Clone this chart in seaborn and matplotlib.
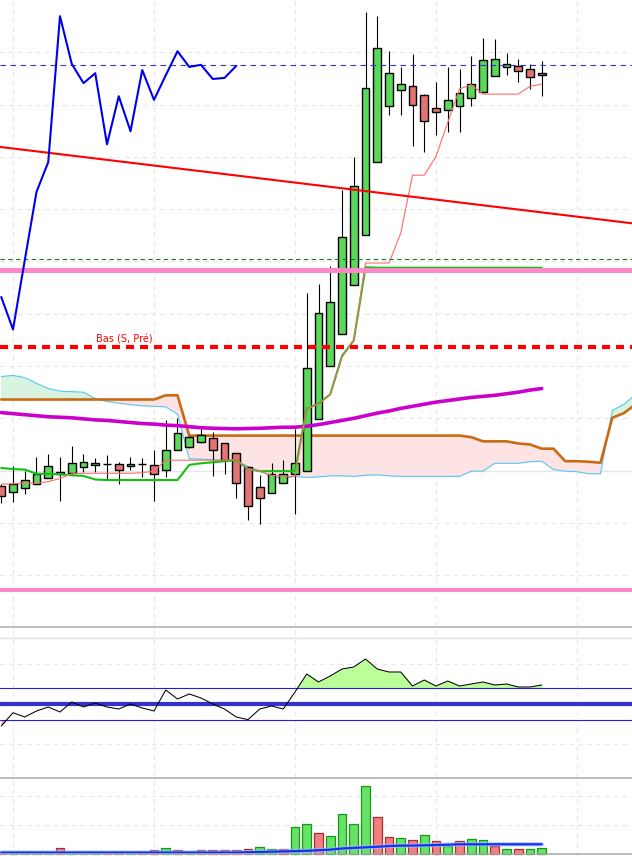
import numpy as np
import pandas as pd
import seaborn as sns
import matplotlib
matplotlib.use("Agg")
import matplotlib.pyplot as plt

# ---- candles (index 0..46), price units: grid every 10
opens = [27.0, 26.0, 26.7, 27.5, 28.65, 29.8, 29.6, 30.6, 31.1, 31.3, 31.3, 30.8, 31.2, 31.1, 30.2, 34.0,
         34.6, 35.5, 36.2, 35.2, 33.4, 30.6, 26.9, 25.8, 27.7, 29.4, 30.0, 39.9, 50.1, 56.2, 65.5, 75.0,
         89.1, 99.8, 102.8, 103.5, 101.8, 99.3, 98.9, 99.8, 101.2, 102.5, 105.4, 107.1, 107.3, 106.9, 106.0]
closes = [25.2, 27.5, 28.3, 29.4, 30.9, 29.4, 31.5, 31.7, 31.5, 31.3, 30.2, 31.3, 31.2, 29.4, 34.0, 37.1,
          36.4, 36.9, 33.9, 32.0, 27.7, 23.3, 24.8, 29.4, 29.4, 31.5, 49.7, 60.2, 62.3, 74.6, 84.5, 103.1,
          110.8, 106.0, 103.9, 100.0, 96.8, 98.5, 100.8, 102.3, 103.9, 108.5, 108.8, 107.7, 106.4, 105.2, 105.6]
highs = [27.4, 30.8, 29.9, 32.7, 33.1, 32.7, 34.8, 33.1, 32.5, 32.9, 31.7, 32.7, 32.5, 33.9, 39.6, 40.0,
         36.6, 38.0, 37.3, 35.2, 33.4, 30.6, 29.1, 31.4, 32.0, 38.0, 64.0, 65.6, 69.1, 83.6, 90.0, 117.7,
         116.9, 110.2, 107.2, 109.7, 102.0, 104.3, 107.2, 106.8, 109.3, 112.7, 112.5, 109.9, 108.8, 107.8, 108.3]
lows = [23.8, 24.0, 25.6, 27.5, 28.65, 24.2, 29.4, 29.7, 29.7, 28.4, 27.5, 30.2, 28.8, 24.2, 28.8, 34.0,
        34.4, 35.3, 29.0, 29.4, 24.8, 20.6, 19.8, 25.8, 27.7, 21.8, 30.0, 39.9, 50.1, 56.2, 65.5, 75.0,
        89.1, 98.0, 98.0, 92.1, 91.0, 94.2, 94.8, 94.8, 99.8, 102.5, 105.4, 105.7, 104.3, 102.9, 101.7]

# ---- indicators
tenkan = [27.4, 27.5, 27.6, 27.6, 27.9, 28.5, 29.4, 29.5, 29.5, 29.5, 29.5, 29.5, 29.6, 29.9, 32.0, 32.0,
          32.0, 32.0, 32.0, 32.0, 32.1, 30.3, 29.9, 29.1, 28.9, 28.9, 41.9, 42.7, 44.5, 51.7, 54.9, 69.7,
          69.7, 69.7, 75.4, 86.5, 86.5, 90.1, 96.6, 103.0, 103.8, 102.0, 102.0, 102.0, 102.0, 103.5, 103.9]
kijun = [30.5, 30.3, 30.2, 29.4, 29.4, 29.3, 29.1, 29.0, 28.3, 28.2, 28.2, 28.2, 28.2, 28.2, 28.2, 28.2,
         31.1, 31.4, 31.6, 31.8, 32.0, 30.3, 29.9, 29.9, 29.9, 29.9, 41.9, 42.8, 44.6, 51.9, 54.9, 68.9,
         68.8, 68.8, 68.8, 68.8, 68.8, 68.8, 68.8, 68.8, 68.8, 68.8, 68.8, 68.8, 68.8, 68.8, 68.8]
ma_slow = [41.1, 40.9, 40.7, 40.5, 40.3, 40.2, 40.1, 39.9, 39.7, 39.6, 39.4, 39.2, 39.0, 38.9, 38.7, 38.6,
           38.4, 38.2, 38.1, 38.05, 38.0, 38.05, 38.1, 38.2, 38.3, 38.3, 38.5, 38.8, 39.2, 39.6, 40.0, 40.5,
           41.0, 41.4, 41.9, 42.3, 42.7, 43.1, 43.4, 43.7, 44.0, 44.2, 44.4, 44.7, 45.0, 45.4, 45.7]
# cloud runs 8 bars past the last candle
span_a = [48.0, 48.2, 47.8, 46.7, 45.7, 45.2, 45.1, 45.0, 43.8, 43.2, 42.9, 42.6, 42.4, 42.3, 42.2, 40.8,
          32.3, 32.2, 32.1, 32.0, 31.8, 30.8, 29.9, 28.9, 28.5, 28.9, 28.7, 28.8, 29.0, 29.0, 28.9, 29.1,
          29.2, 29.0, 28.9, 28.9, 28.9, 28.9, 28.9, 28.9, 29.9, 29.9, 31.4, 31.4, 31.4, 31.7, 31.8, 30.2,
          29.9, 29.8, 29.4, 29.4, 41.5, 42.7, 44.6]
span_b = [43.6] * 14 + [44.4, 44.4] + [36.7] * 24 + [36.4, 35.6, 35.6, 35.6, 35.2, 35.0, 34.2, 34.2,
                                                   31.8, 31.8, 31.7, 31.5, 40.1, 41.0, 42.7]
compare = [63.2, 57.0, 70.2, 83.3, 89.0, 116.9, 107.8, 104.1, 106.0, 92.4, 101.6, 94.9, 106.6, 100.9,
           105.6, 110.2, 107.2, 107.6, 104.9, 105.1, 107.4]
trend_start, trend_end = 91.9, 77.3
level_blue, level_green, level_pink, level_pink_low, level_bas = 107.6, 70.4, 68.3, 7.1, 53.6

# ---- oscillator
osc = [22.5, 39.1, 33.75, 41.25, 46.25, 40.0, 52.5, 46.25, 51.25, 46.25, 43.75, 50.0, 45.0, 41.25, 67.5,
       56.25, 62.5, 57.5, 50.0, 43.75, 33.75, 30.5, 43.75, 47.5, 43.75, 65.0, 87.5, 77.5, 85.0, 93.75,
       96.25, 106.25, 93.75, 90.0, 90.0, 72.5, 80.0, 72.5, 78.75, 72.5, 75.0, 77.5, 73.75, 75.0, 71.25,
       71.25, 73.75]

# ---- volume
volume = [0.4, 0.4, 0.4, 0.4, 0.4, 2.0, 0.4, 0.4, 0.4, 0.4, 0.4, 0.4, 0.4, 1.3, 2.0, 1.3, 0.8, 1.3, 1.3,
          1.3, 1.3, 1.6, 2.3, 1.6, 1.6, 9.2, 10.2, 7.1, 6.1, 13.7, 10.2, 23.3, 12.7, 5.8, 5.4, 4.7, 6.4,
          4.4, 2.8, 4.4, 5.1, 4.7, 2.7, 1.6, 1.6, 1.6, 2.0]
vol_dir = ['d', 'u', 'u', 'u', 'u', 'd', 'u', 'u', 'u', 'd', 'd', 'u', 'd', 'd', 'u', 'd', 'u', 'd',
           'd', 'd', 'd', 'd', 'u', 'u', 'd', 'u', 'u', 'd', 'u', 'u', 'u', 'u', 'd', 'd', 'u', 'd', 'u',
           'd', 'u', 'd', 'u', 'u', 'd', 'u', 'd', 'u', 'u']
vol_ma = [0.5] * 21 + [0.6, 0.7, 0.8, 0.9, 1.0, 1.1, 1.3, 1.5, 1.9, 2.1, 2.3, 2.5, 2.75, 2.9, 2.9, 3.0,
                      3.1, 3.2, 3.35, 3.35, 3.35, 3.35, 3.35, 3.35, 3.35, 3.35]

df = pd.DataFrame({"i": np.arange(len(opens)), "o": opens, "h": highs, "l": lows, "c": closes,
                   "tenkan": tenkan, "kijun": kijun, "ma": ma_slow, "osc": osc,
                   "vol": volume, "vdir": vol_dir, "volma": vol_ma})
cloud = pd.DataFrame({"i": np.arange(len(span_a)), "a": span_a, "b": span_b})
cmp_df = pd.DataFrame({"i": np.arange(len(compare)), "v": compare})

sns.set_theme(style="white")
plt.rcParams['font.family'] = ['DejaVu Sans']

fig = plt.figure(figsize=(6.32, 8.56), dpi=100)
ax = fig.add_axes([0, 0.26694, 1, 0.73306])
ax_o = fig.add_axes([0, 0.091706, 1, 0.17465])
ax_v = fig.add_axes([0, 0, 1, 0.091121])

xlim = (-0.106, 53.68)
grid_x = [1, 13, 25, 37, 49]
for a in (ax, ax_o, ax_v):
    a.set_xlim(*xlim)
    a.set_xticks(grid_x)
    a.set_xticklabels([])
    a.tick_params(length=0)
    a.grid(True, color="#e6e6e6", linestyle=(0, (4, 4)), linewidth=0.8)
    a.set_axisbelow(True)
    for s in a.spines.values():
        s.set_visible(False)
    a.set_facecolor("white")

# ---- main panel
ax.set_ylim(0, 120)
ax.set_yticks(np.arange(10, 120, 10))
ax.yaxis.set_ticklabels([])
ax.axhline(30, color="#e4e4e4", lw=0.9, zorder=0.5)
ax.spines["bottom"].set_visible(True)
ax.spines["bottom"].set_color("#a4acac")
ax.spines["bottom"].set_linewidth(1.1)

ci = cloud["i"].values
ax.fill_between(ci, cloud["a"], cloud["b"], where=cloud["a"] >= cloud["b"], interpolate=True,
                color="#d8f3df", lw=0, zorder=1)
ax.fill_between(ci, cloud["a"], cloud["b"], where=cloud["a"] < cloud["b"], interpolate=True,
                color="#fde3e3", lw=0, zorder=1)
sns.lineplot(data=cloud, x="i", y="a", ax=ax, color="#55c8f0", linewidth=0.8, estimator=None, zorder=2)
sns.lineplot(data=cloud, x="i", y="b", ax=ax, color="#cc6a14", linewidth=1.9, estimator=None, zorder=2)

# candles
up = df["c"] >= df["o"]
ax.vlines(df["i"], df["l"], df["h"], color="black", lw=0.8, zorder=3)
body_bottom = np.minimum(df["o"], df["c"])
body_h = np.abs(df["c"] - df["o"])
ax.bar(df["i"], body_h, bottom=body_bottom, width=0.66,
       color=np.where(up, "#5ad85a", "#e37474"), edgecolor="black", linewidth=1.0, zorder=4)

sns.lineplot(data=df, x="i", y="ma", ax=ax, color="#cc00cc", linewidth=2.6, estimator=None, zorder=5)
sns.lineplot(data=df, x="i", y="kijun", ax=ax, color="#11c011", linewidth=1.5, estimator=None, zorder=5)
sns.lineplot(data=df, x="i", y="tenkan", ax=ax, color="#ff6b6b", linewidth=0.8, estimator=None, zorder=5)

ax.axhline(level_green, color="#1a7a1a", lw=0.8, linestyle=(0, (4, 3)), zorder=5)
ax.axhline(level_blue, color="#3333cc", lw=0.8, linestyle=(0, (5, 4)), zorder=5)
ax.axhline(level_pink, color="#ff88c8", lw=3.6, zorder=6)
ax.axhline(level_pink_low, color="#ff88c8", lw=2.9, zorder=6)
ax.axhline(level_bas, color="#ff0000", lw=3.0, linestyle=(0, (1.92, 1.44)), zorder=6)
ax.text(10.5, level_bas + 1.4, "Bas (S, Pré)", color="#ff0000", fontsize=7, ha="center", va="center",
        zorder=7)
ax.plot(xlim, [trend_start, trend_end], color="#ff0000", lw=1.5, zorder=6)
sns.lineplot(data=cmp_df, x="i", y="v", ax=ax, color="#0000ee", linewidth=1.5, estimator=None, zorder=7)

# ---- oscillator panel
ax_o.set_ylim(-41.875, 145)
ax_o.set_yticks([0, 100])
ax_o.yaxis.set_ticklabels([])
ax_o.axhline(133, color="#e2e2e2", lw=1.0, zorder=0.5)
oi = df["i"].values
ov = df["osc"].values
ax_o.fill_between(oi, ov, 70, where=ov >= 70, interpolate=True, color="#bbff99", lw=0, zorder=1)
ax_o.fill_between(oi, ov, 30, where=ov <= 30, interpolate=True, color="#ff9aa8", lw=0, zorder=1)
ax_o.axhline(70, color="#2222cc", lw=0.8, zorder=2)
ax_o.axhline(30, color="#2222cc", lw=0.8, zorder=2)
ax_o.axhline(50, color="#3333cc", lw=3.0, zorder=2)
sns.lineplot(data=df, x="i", y="osc", ax=ax_o, color="black", linewidth=0.75, estimator=None, zorder=3)

# ---- volume panel
ax_v.set_ylim(-0.69, 26.21)
ax_v.set_yticks([10, 20])
ax_v.yaxis.set_ticklabels([])
ax_v.spines["top"].set_visible(True)
ax_v.spines["top"].set_color("#a4acac")
ax_v.spines["top"].set_linewidth(1.1)
vup = df["vdir"] == "u"
ax_v.bar(df["i"], df["vol"], width=0.76, color=np.where(vup, "#66e266", "#f07f7f"),
         edgecolor=np.where(vup, "#169a16", "#b02a2a"), linewidth=0.9, zorder=2)
sns.lineplot(data=df, x="i", y="volma", ax=ax_v, color="#9fb8ff", linewidth=3.2, estimator=None,
             zorder=3, alpha=0.7)
sns.lineplot(data=df, x="i", y="volma", ax=ax_v, color="#1133ee", linewidth=1.6, estimator=None, zorder=4)
ax_v.axhline(0, color="#a4acac", lw=1.1, zorder=5)

for a in (ax, ax_o, ax_v):
    a.set_xlabel("")
    a.set_ylabel("")

fig.savefig("out.png", dpi=100)
